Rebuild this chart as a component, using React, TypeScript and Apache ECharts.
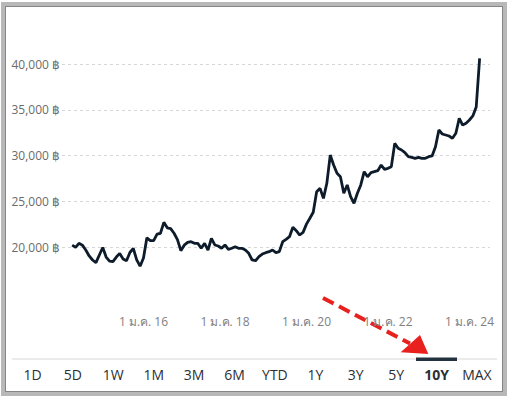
import React, { useEffect, useRef } from "react";
import * as echarts from "echarts";

// Monthly axis categories (Jan 2014 .. Jul 2024)
const months: string[] = [];
for (let y = 2014; y <= 2024; y++) {
  for (let m = 1; m <= 12; m++) {
    if (y === 2024 && m > 7) break;
    months.push(`${y}-${String(m).padStart(2, "0")}`);
  }
}

const priceStart = "2014-04";
// Gold price (THB), one reading per month, Apr 2014 .. Apr 2024
const prices = [
  20200, 19950, 20400, 20200, 19670, 19020, 18580, 18290, 19130,
  19950, 18900, 18450, 18400, 18900, 19300, 18700, 18500, 19400, 19850, 18600, 17900,
  18800, 21000, 20700, 20700, 21400, 21500, 22700, 22100, 22000, 21500, 20800, 19600,
  20200, 20500, 20580, 20400, 20400, 19860, 20400, 19670, 20950, 20220, 20110, 19860,
  20220, 19750, 19860, 20030, 19860, 19860, 19670, 19310, 18580, 18500, 18940, 19230,
  19380, 19490, 19670, 19380, 19490, 20580, 20840, 21130, 22150, 21780, 21310, 21600,
  22500, 23140, 23800, 26040, 26410, 25320, 26960, 30050, 28960, 28050, 27680, 25870,
  26780, 25500, 24780, 25870, 26780, 28230, 27680, 28120, 28230, 28340, 28960, 28490,
  28600, 28780, 31330, 30790, 30600, 30310, 29870, 29800, 29690, 29800, 29690, 29690,
  29870, 29950, 30960, 32790, 32350, 32240, 32130, 31880, 32430, 34070, 33330, 33520,
  33880, 34320, 35300, 40620,
];

const xTickMonths = ["2016-01", "2018-01", "2020-01", "2022-01", "2024-01"];
const rangeButtons = ["1D", "5D", "1W", "1M", "3M", "6M", "YTD", "1Y", "3Y", "5Y", "10Y", "MAX"];
const activeRange = "10Y";

const FONT = "'Open Sans', 'Noto Sans', sans-serif";

export default function App() {
  const ref = useRef<HTMLDivElement>(null);

  useEffect(() => {
    if (!ref.current) return;
    const chart = echarts.init(ref.current, undefined, { renderer: "svg" });
    const offset = months.indexOf(priceStart);
    const seriesData = months.map((_, i) => {
      const k = i - offset;
      return k >= 0 && k < prices.length ? prices[k] : null;
    });

    const tabGraphics: any[] = rangeButtons.map((label, i) => ({
      type: "text",
      x: 32.5 + i * 40.4,
      y: 374,
      style: {
        text: label,
        fill: "#2b2f33",
        font: `${label === activeRange ? "bold " : ""}14px ${FONT}`,
        align: "center",
        verticalAlign: "middle",
      },
    }));
    const activeIdx = rangeButtons.indexOf(activeRange);
    const activeX = 32.5 + activeIdx * 40.4;

    chart.setOption({
      animation: false,
      grid: { left: 62, right: 0, top: 45.7, bottom: 112.4 },
      xAxis: {
        type: "category",
        data: months,
        boundaryGap: false,
        axisLine: { show: false },
        axisTick: { show: false },
        splitLine: { show: false },
        axisLabel: {
          interval: (_i: number, v: string) => xTickMonths.includes(v),
          formatter: (v: string) => "1 ม.ค. " + v.slice(2, 4),
          color: "#808080",
          fontSize: 12,
          fontFamily: FONT,
          margin: 32,
        },
      },
      yAxis: {
        type: "value",
        min: 16000,
        max: 42000,
        axisLine: { show: false },
        axisTick: { show: false },
        axisLabel: {
          showMinLabel: false,
          showMaxLabel: false,
          margin: 2,
          color: "#6b6b6b",
          fontSize: 12,
          fontFamily: FONT,
          formatter: (v: number) => v.toLocaleString("en-US") + " ฿",
        },
        splitLine: {
          show: true,
          showMinLine: false,
          showMaxLine: false,
          lineStyle: { type: [3, 3], color: "#d6d6d6", width: 1 },
        },
      },
      series: [
        {
          type: "line",
          data: seriesData,
          showSymbol: false,
          connectNulls: false,
          lineStyle: { color: "#0d1b2a", width: 2.8 },
          itemStyle: { color: "#0d1b2a" },
        },
      ],
      graphic: [
        {
          type: "rect",
          shape: { x: 12, y: 358, width: 485, height: 2 },
          style: { fill: "#ebebeb" },
        },
        {
          type: "rect",
          shape: { x: activeX - 20.5, y: 357.5, width: 41, height: 3.5 },
          style: { fill: "#24323f" },
        },
        ...tabGraphics,
        {
          type: "line",
          shape: { x1: 323, y1: 298, x2: 410, y2: 343.5 },
          style: { stroke: "#e8211f", lineWidth: 4, lineDash: [12, 6] },
        },
        {
          type: "polygon",
          shape: { points: [[400.7, 352.3], [420, 335], [428.3, 354]] },
          style: { fill: "#e8211f" },
        },
      ],
    });
    return () => chart.dispose();
  }, []);

  return (
    <>
      <div
        ref={ref}
        style={{ position: "absolute", left: 0, top: 0, width: 497, height: 396, background: "#fff" }}
      />
      <div
        style={{
          position: "absolute",
          left: 1,
          top: 2,
          width: 506,
          height: 394,
          boxSizing: "border-box",
          border: "4px solid #b8b8b8",
          pointerEvents: "none",
        }}
      >
        <div
          style={{
            width: "100%",
            height: "100%",
            boxSizing: "border-box",
            border: "1px solid #858585",
          }}
        />
      </div>
    </>
  );
}
